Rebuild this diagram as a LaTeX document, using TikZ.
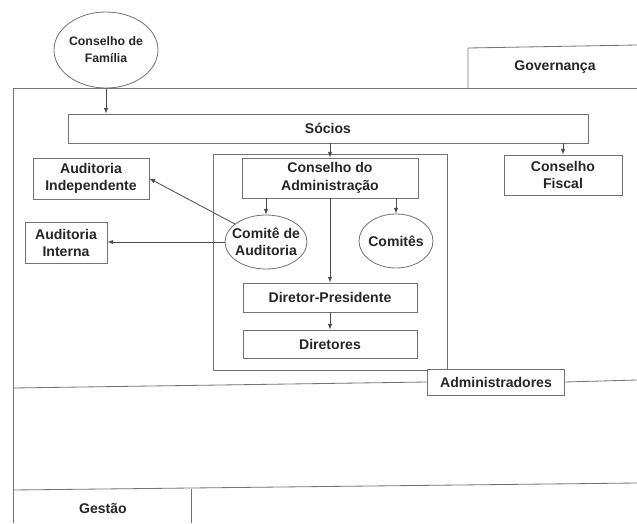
\documentclass[tikz,border=0pt]{standalone}
\usepackage{fontspec}
\setmainfont{Liberation Sans}
\usepackage{tikz}
\usetikzlibrary{shapes.geometric}

\begin{document}
\begin{tikzpicture}[x=0.03cm,y=-0.03cm,
    linha/.style={draw=black!55,line width=0.7pt},
    txt/.style={align=center,text=black!85,font=\fontsize{12}{15}\selectfont\bfseries},
    caixa/.style={linha,txt,rectangle,fill=white,inner sep=0pt},
    oval/.style={linha,ellipse,inner sep=0pt},
    seta/.style={draw=black!70,line width=0.7pt,-latex}]
    \useasboundingbox (0,0) rectangle (637,523);
    % faixas
    \draw[linha] (13,523) -- (13,88) -- (637,88);
    \draw[linha] (468,88) -- (468,48) -- (637,45);
    \draw[linha] (13,490) -- (637,483);
    \draw[linha] (191,489) -- (191,523);
    \draw[linha] (213,154) rectangle (447,370);
    \node (gov) at (555,67) [txt] {Governança};
    \node (ges) at (103,508) [txt] {Gestão};
    \node (adm) at (496,382) [caixa,minimum width=4.11cm,minimum height=0.78cm] {Administradores};
    \draw[linha] (13,388) -- (adm.west);
    \draw[linha] (adm.east) -- (637,380);
    % orgaos
    \node (cf) at (106,50) [oval,minimum width=3.12cm,minimum height=2.28cm,
        label={[txt,font=\fontsize{10.5}{14.5}\selectfont\bfseries]center:Conselho de\\Família}] {};
    \node (socios) at (328,128.5) [caixa,minimum width=15.6cm,minimum height=0.87cm] {Sócios};
    \node (ca) at (330,178) [caixa,minimum width=5.28cm,minimum height=1.2cm] {Conselho do\\Administração};
    \node (fiscal) at (563,175) [caixa,minimum width=3.54cm,minimum height=1.2cm] {Conselho\\Fiscal};
    \node (audind) at (91,178.5) [caixa,minimum width=3.48cm,minimum height=1.23cm] {Auditoria\\Independente};
    \node (audint) at (66,243) [caixa,minimum width=2.46cm,minimum height=1.23cm] {Auditoria\\Interna};
    \node (cda) at (266,242) [oval,minimum width=2.46cm,minimum height=1.62cm,
        label={[txt]center:Comitê de\\Auditoria}] {};
    \node (comites) at (396,241) [oval,minimum width=2.22cm,minimum height=1.62cm,
        label={[txt]center:Comitês}] {};
    \node (dp) at (330,297.5) [caixa,minimum width=5.22cm,minimum height=0.87cm] {Diretor-Presidente};
    \node (dir) at (330,344) [caixa,minimum width=5.22cm,minimum height=0.84cm] {Diretores};
    % setas
    \draw[seta] (cf.south) -- (cf.south |- socios.north);
    \draw[seta] (ca.north |- socios.south) -- (ca.north);
    \draw[seta] (fiscal.north |- socios.south) -- (fiscal.north);
    \draw[seta] (cda.north |- ca.south) -- (cda.north);
    \draw[seta] (comites.north |- ca.south) -- (comites.north);
    \draw[seta] (ca.south) -- (dp.north);
    \draw[seta] (dp.south) -- (dir.north);
    \draw[seta] (cda.150) -- (audind.east);
    \draw[seta] (cda.west) -- (cda.west -| audint.east);
\end{tikzpicture}
\end{document}
